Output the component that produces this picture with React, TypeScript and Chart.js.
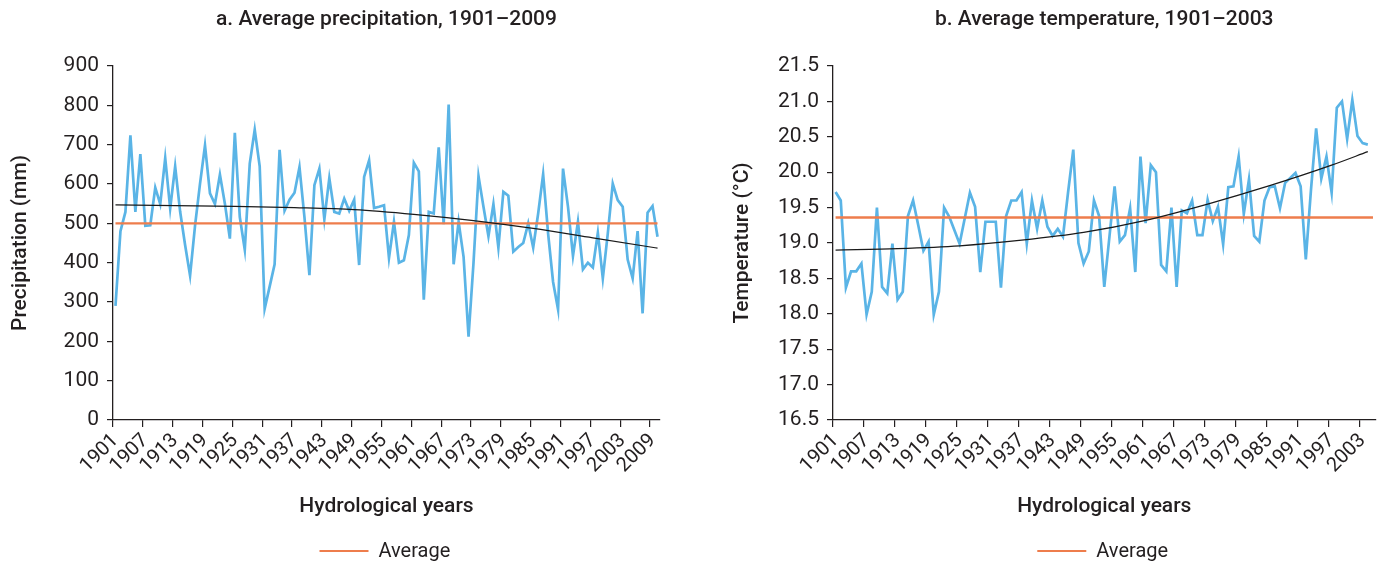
import React, { useEffect, useRef } from 'react';
import { Chart, registerables } from 'chart.js';

Chart.register(...registerables);

// ---------------- DATA ----------------
const precipYears: string[] = Array.from({ length: 110 }, (_, i) => String(1901 + i));
const precipValues: number[] = [
  290, 480, 529, 724, 529, 676, 494, 495, 591, 549,
  666, 538, 645, 530, 445, 367, 494, 601, 698, 576,
  549, 624, 550, 461, 730, 516, 433, 652, 738, 645,
  283, 339, 396, 687, 532, 560, 578, 643, 516, 368,
  597, 639, 510, 615, 529, 525, 563, 532, 560, 394,
  618, 660, 539, 542, 546, 412, 504, 400, 406, 470,
  654, 632, 306, 529, 525, 693, 498, 802, 396, 504,
  415, 212, 400, 620, 542, 467, 549, 438, 580, 570,
  428, 440, 450, 500, 438, 525, 625, 474, 351, 281,
  639, 542, 417, 504, 383, 400, 388, 476, 360, 474,
  601, 559, 542, 408, 360, 480, 271, 527, 544, 466,
];
const precipAverage = 500;
const precipTrendYears: string[] = ['1901', '1913', '1925', '1937', '1949', '1961', '1973', '1985', '1997', '2010'];
const precipTrendValues: number[] = [547, 545, 543, 540, 535, 523, 507, 487, 463, 437];
const precipTicks = { min: 0, max: 900, step: 100 };

const tempYears: string[] = Array.from({ length: 105 }, (_, i) => String(1901 + i));
const tempValues: number[] = [
  19.72, 19.60, 18.37, 18.60, 18.60, 18.71, 17.99, 18.31, 19.50, 18.38,
  18.29, 18.99, 18.20, 18.31, 19.38, 19.60, 19.25, 18.89, 19.02, 17.99,
  18.31, 19.50, 19.37, 19.18, 18.99, 19.35, 19.71, 19.51, 18.59, 19.30,
  19.30, 19.30, 18.37, 19.38, 19.60, 19.60, 19.72, 18.99, 19.60, 19.20,
  19.60, 19.23, 19.10, 19.20, 19.09, 19.72, 20.32, 19.00, 18.71, 18.88,
  19.60, 19.38, 18.38, 19.09, 19.80, 19.02, 19.11, 19.49, 18.59, 20.22,
  19.28, 20.10, 20.00, 18.69, 18.60, 19.50, 18.38, 19.46, 19.42, 19.60,
  19.11, 19.11, 19.61, 19.31, 19.51, 18.98, 19.79, 19.80, 20.22, 19.41,
  19.90, 19.10, 19.02, 19.60, 19.79, 19.80, 19.49, 19.85, 19.92, 19.99,
  19.80, 18.77, 19.75, 20.62, 19.91, 20.22, 19.71, 20.91, 21.00, 20.47,
  21.02, 20.51, 20.41, 20.39,
];
const tempAverage = 19.36;
const tempTrendYears: string[] = ['1901', '1913', '1925', '1937', '1949', '1961', '1973', '1985', '1997', '2004'];
const tempTrendValues: number[] = [18.90, 18.92, 18.96, 19.04, 19.15, 19.32, 19.55, 19.81, 20.10, 20.29];
const tempTicks = { min: 16.5, max: 21.5, step: 0.5 };

// ---------------- STYLE ----------------
const FONT = 'Roboto, "Open Sans", sans-serif';
const TEXT = '#231f20';
const BLUE = '#5ab4e6';
const ORANGE = '#ee7d4c';
const TREND = '#1a1a1a';

const decorPlugin = {
  id: 'decor',
  afterDraw(chart: any, _args: any, opts: any) {
    const { ctx, chartArea } = chart;
    const cx = (chartArea.left + chartArea.right) / 2;
    ctx.save();
    ctx.fillStyle = TEXT;
    ctx.textBaseline = 'middle';
    ctx.textAlign = 'center';
    ctx.font = `500 21px ${FONT}`;
    ctx.fillText(opts.title, cx, opts.titleY);
    ctx.strokeStyle = ORANGE;
    ctx.lineWidth = 2.2;
    ctx.beginPath();
    ctx.moveTo(cx - 67, opts.legendY);
    ctx.lineTo(cx - 18, opts.legendY);
    ctx.stroke();
    ctx.textAlign = 'left';
    ctx.font = `20px ${FONT}`;
    ctx.fillText(opts.legendLabel, cx - 8, opts.legendY + 1);
    ctx.restore();
  },
};

interface Params {
  title: string;
  yTitle: string;
  years: string[];
  values: number[];
  average: number;
  trendYears: string[];
  trendValues: number[];
  ticks: { min: number; max: number; step: number };
  decimals: number;
  yWidth: number;
  yTitlePad: number;
  rightPad: number;
}

function buildConfig(p: Params): any {
  return {
    type: 'line',
    data: {
      labels: p.years,
      datasets: [
        {
          label: 'Trend',
          data: p.trendYears.map((y, i) => ({ x: y, y: p.trendValues[i] })),
          borderColor: TREND,
          borderWidth: 1.2,
          pointRadius: 0,
          cubicInterpolationMode: 'monotone',
          order: 1,
        },
        {
          label: 'Average',
          data: p.years.map(() => p.average),
          borderColor: ORANGE,
          borderWidth: 2.4,
          pointRadius: 0,
          order: 2,
        },
        {
          label: 'Value',
          data: p.values,
          borderColor: BLUE,
          borderWidth: 2.7,
          pointRadius: 0,
          tension: 0,
          order: 3,
        },
      ],
    },
    options: {
      responsive: false,
      maintainAspectRatio: false,
      animation: false,
      layout: { padding: { top: 66, right: p.rightPad, bottom: 0, left: 0 } },
      plugins: {
        legend: { display: false },
        tooltip: { enabled: false },
        decor: { title: p.title, titleY: 20, legendY: 551, legendLabel: 'Average' },
      },
      scales: {
        x: {
          type: 'category',
          offset: true,
          grid: {
            offset: true,
            drawOnChartArea: false,
            drawTicks: true,
            tickLength: 7,
            lineWidth: 1.2,
            color: (c: any) => (c.tick && c.index % 6 === 0 ? TEXT : 'rgba(0,0,0,0)'),
          },
          border: { display: true, color: TEXT, width: 1.3 },
          ticks: {
            autoSkip: false,
            minRotation: 45,
            maxRotation: 45,
            padding: 2,
            color: TEXT,
            font: { family: FONT, size: 20 },
            callback: function (this: any, v: any, i: number) {
              return i % 6 === 0 ? this.getLabelForValue(v) : '';
            },
          },
          title: {
            display: true,
            text: 'Hydrological years',
            color: TEXT,
            font: { family: FONT, size: 21, weight: '500' },
            padding: { top: 0, bottom: 46 },
          },
          afterFit: (s: any) => {
            s.height = 145;
          },
        },
        y: {
          min: p.ticks.min,
          max: p.ticks.max,
          ticks: {
            stepSize: p.ticks.step,
            color: TEXT,
            padding: 8,
            font: { family: FONT, size: 21 },
            callback: (v: any) => Number(v).toFixed(p.decimals),
          },
          grid: {
            drawOnChartArea: false,
            drawTicks: true,
            tickLength: 6,
            lineWidth: 1.2,
            color: TEXT,
          },
          border: { display: true, color: TEXT, width: 1.3 },
          title: {
            display: true,
            text: p.yTitle,
            color: TEXT,
            font: { family: FONT, size: 21, weight: '500' },
            padding: { top: p.yTitlePad, bottom: 0 },
          },
          afterFit: (s: any) => {
            s.width = p.yWidth;
          },
        },
      },
    },
    plugins: [decorPlugin],
  };
}

function ChartCanvas({ left, width, params }: { left: number; width: number; params: Params }) {
  const ref = useRef<HTMLCanvasElement>(null);
  useEffect(() => {
    const chart = new Chart(ref.current as HTMLCanvasElement, buildConfig(params));
    return () => chart.destroy();
  }, []);
  return (
    <canvas
      ref={ref}
      width={width}
      height={565}
      style={{ position: 'absolute', left, top: 0, width, height: 565 }}
    />
  );
}

export default function App() {
  return (
    <div style={{ position: 'absolute', left: 0, top: 0, width: 1392, height: 565, background: '#fff' }}>
      <ChartCanvas
        left={0}
        width={700}
        params={{
          title: 'a. Average precipitation, 1901–2009',
          yTitle: 'Precipitation (mm)',
          years: precipYears,
          values: precipValues,
          average: precipAverage,
          trendYears: precipTrendYears,
          trendValues: precipTrendValues,
          ticks: precipTicks,
          decimals: 0,
          yWidth: 113,
          yTitlePad: 8,
          rightPad: 40,
        }}
      />
      <ChartCanvas
        left={700}
        width={692}
        params={{
          title: 'b. Average temperature, 1901–2003',
          yTitle: 'Temperature (°C)',
          years: tempYears,
          values: tempValues,
          average: tempAverage,
          trendYears: tempTrendYears,
          trendValues: tempTrendValues,
          ticks: tempTicks,
          decimals: 1,
          yWidth: 133,
          yTitlePad: 30,
          rightPad: 10,
        }}
      />
    </div>
  );
}
